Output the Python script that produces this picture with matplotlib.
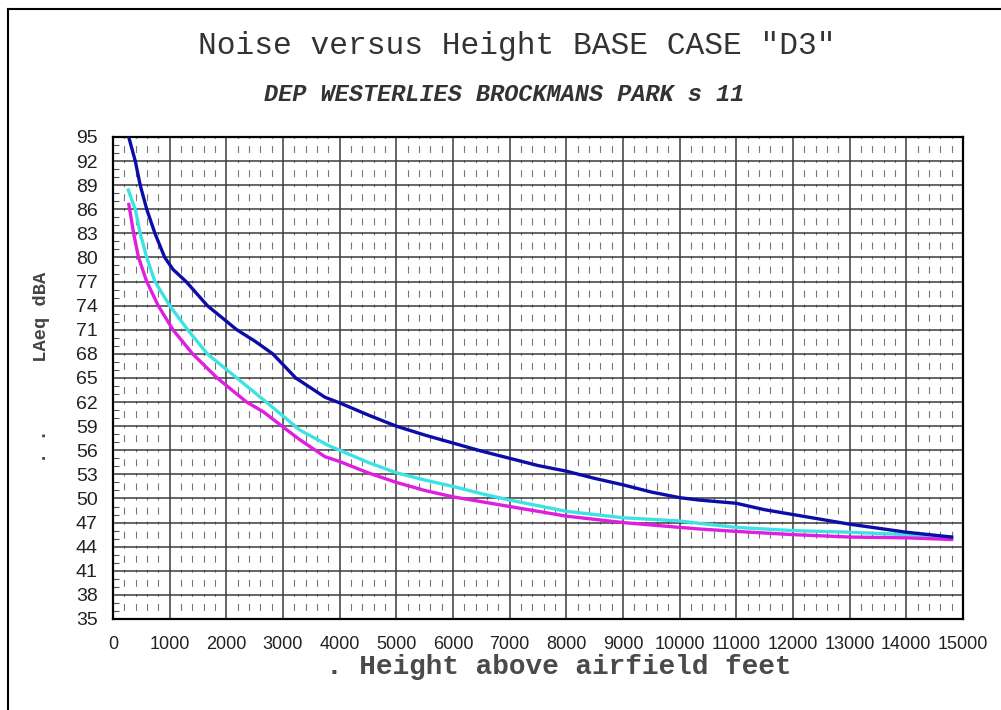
import matplotlib
matplotlib.use("Agg")
import matplotlib.pyplot as plt
from matplotlib.ticker import MultipleLocator
from matplotlib.lines import Line2D

# Noise level vs height curves (feet, dBA)
height_d3 = [277, 393, 480, 595, 740, 913, 1060, 1290, 1665, 2185, 2500, 2820,
             3225, 3740, 4000, 4500, 5000, 5500, 6000, 6500, 7000, 7500, 8000,
             8500, 9000, 9500, 10000, 10350, 11000, 11500, 12000, 12500, 13000,
             13500, 14000, 14400, 14800]
laeq_d3 = [95, 92, 89, 86, 83, 80, 78.5, 77, 74, 71, 69.6, 68.0,
           65.0, 62.6, 61.9, 60.4, 59.0, 57.9, 56.9, 55.9, 55.0, 54.1, 53.4,
           52.5, 51.7, 50.8, 50.1, 49.8, 49.4, 48.6, 48.0, 47.4, 46.8,
           46.3, 45.8, 45.5, 45.2]

height_cyan = [270, 330, 393, 480, 595, 740, 1000, 1318, 1665, 2185, 2705,
               3300, 3800, 4000, 4500, 5000, 5500, 6000, 6500, 7000, 7500, 8000,
               8500, 9000, 9500, 10000, 10350, 11000, 12000, 13000, 14000, 14800]
laeq_cyan = [88.4, 87.2, 86.0, 83, 80, 77, 74, 71, 68, 65, 62,
             58.5, 56.6, 56.0, 54.5, 53.2, 52.3, 51.5, 50.6, 49.8, 49.1, 48.4,
             48.0, 47.6, 47.4, 47.2, 46.9, 46.4, 46.0, 45.8, 45.5, 45.2]

height_mag = [280, 364, 450, 595, 798, 1058, 1405, 1838, 2358, 2650, 3000,
              3300, 3740, 4000, 4500, 5000, 5500, 6000, 6500, 7000, 7500, 8000,
              8500, 9000, 9500, 10000, 10350, 11000, 12000, 13000, 14000, 14800]
laeq_mag = [86.6, 83, 80, 77, 74, 71, 68, 65, 62, 60.8, 58.9,
            57.3, 55.2, 54.6, 53.2, 52.0, 51.0, 50.2, 49.6, 49.0, 48.4, 47.8,
            47.4, 47.0, 46.7, 46.4, 46.2, 45.9, 45.5, 45.2, 45.1, 44.9]

x_ticks = list(range(0, 15001, 1000))
y_ticks = list(range(35, 96, 3))

plt.rcParams['lines.scale_dashes'] = False

fig = plt.figure(figsize=(10.01, 7.10), dpi=100)
ax = fig.add_axes([0.1129, 0.1282, 0.8491, 0.6789])

# frame around the page
fig.add_artist(Line2D([0.008, 0.008], [0.0, 0.987], color='black', lw=1.5,
                      transform=fig.transFigure))
fig.add_artist(Line2D([0.008, 1.0], [0.987, 0.987], color='black', lw=1.5,
                      transform=fig.transFigure))

ax.set_xlim(0, 15000)
ax.set_ylim(35, 95)
ax.set_xticks(x_ticks)
ax.set_yticks(y_ticks)
ax.xaxis.set_minor_locator(MultipleLocator(200))
ax.yaxis.set_minor_locator(MultipleLocator(1))

# major grid
ax.grid(which='major', color='#3c3c3c', lw=1.1)

# minor vertical grid: short dash across each major line, longer one mid-cell
ax_h_pt = 0.6789 * 7.10 * 72
period = ax_h_pt / 20
on1 = 2.2
on2 = 5.0
off = (period - on1 - on2) / 2
ax.grid(which='minor', axis='x', color='#777777', lw=0.8,
        linestyle=(on1 / 2, (on1, off, on2, off)))

ax.tick_params(which='major', length=0)
ax.tick_params(axis='x', which='major', pad=12, labelsize=13)
ax.tick_params(axis='y', which='major', pad=11, labelsize=14)
ax.tick_params(axis='y', which='minor', direction='in', length=4, width=0.8,
               color='#555555')
ax.tick_params(axis='x', which='minor', length=0)
for lab in ax.get_xticklabels() + ax.get_yticklabels():
    lab.set_family('Liberation Sans')
    lab.set_color('#222222')

for sp in ax.spines.values():
    sp.set_linewidth(1.6)
    sp.set_color('black')

ax.plot(height_cyan, laeq_cyan, color='#3de3e3', lw=2.4, zorder=3)
ax.plot(height_mag, laeq_mag, color='#e01ee0', lw=2.4, zorder=4)
ax.plot(height_d3, laeq_d3, color='#0c0ca8', lw=2.4, zorder=5)

mono = 'Liberation Mono'
fig.text(0.516, 0.935, 'Noise versus Height BASE CASE "D3"', family=mono,
         fontsize=22.5, ha='center', va='center', color='#333333')
fig.text(0.504, 0.867, 'DEP WESTERLIES BROCKMANS PARK s 11', family=mono,
         fontsize=17, style='italic', weight='bold', ha='center', va='center',
         color='#333333')
fig.text(0.558, 0.061, '. Height above airfield feet', family=mono,
         fontsize=20, weight='bold', ha='center', va='center', color='#4a4a4a')
fig.text(0.041, 0.482, '. .      LAeq dBA', family=mono, fontsize=13.5,
         weight='bold', rotation=90, ha='center', va='center', color='#444444')

fig.savefig('out.png', dpi=100)
